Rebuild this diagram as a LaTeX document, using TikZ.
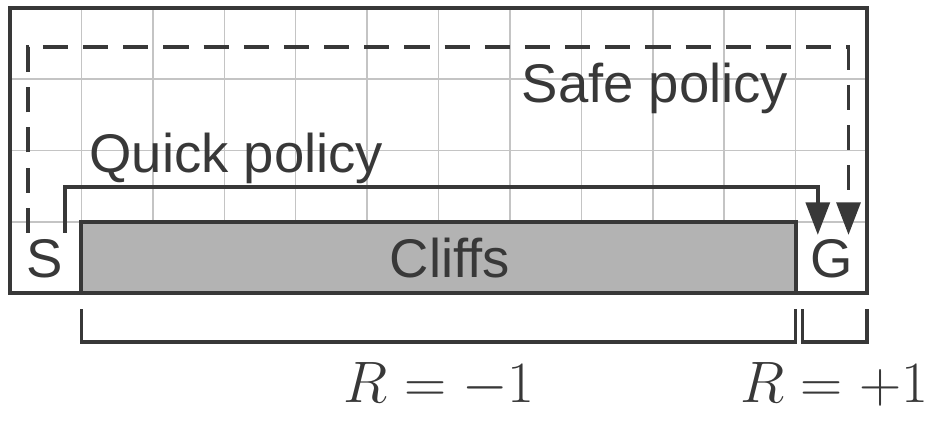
\RequirePackage{fix-cm}
\documentclass[tikz,border=0pt]{standalone}
\usepackage{fontspec}
\setmainfont{Liberation Sans}
\usepackage{amsmath}
\usetikzlibrary{arrows.meta}
\definecolor{ink}{HTML}{383838}
\definecolor{cliffgray}{HTML}{B3B3B3}
\definecolor{gridgray}{HTML}{C4C4C4}
\begin{document}
\begin{tikzpicture}[x=1cm,y=1cm,
  lbl/.style={inner sep=0pt,anchor=base,text=ink,font=\fontsize{21.7}{26}\selectfont},
  mathlbl/.style={inner sep=0pt,anchor=base,text=ink,font=\fontsize{23.3}{28}\selectfont},
  path/.style={ink,line width=1.5pt,-{Triangle[length=13pt,width=9.5pt]}},
  safepath/.style={path,dash pattern=on 10pt off 6pt},
  bracket/.style={ink,line width=1.3pt}]
\useasboundingbox (-0.14,-1.94) rectangle (13.063,4.109);
\draw [gridgray,line width=0.6pt] (0,0) grid (12,4);
\draw [ink,fill=cliffgray,line width=1.6pt] (1,0) rectangle (11,1);
\draw [ink,line width=1.6pt] (0,0) rectangle (12,4);
\node [lbl] (start) at (0.49,0.23) {S};
\node [lbl] (goal) at (11.51,0.23) {G};
\node [lbl] (cliffs) at (6.16,0.23) {Cliffs};
\node [lbl] (safe) at (9.03,2.68) {Safe policy};
\node [lbl] (quick) at (3.17,1.70) {Quick policy};
\coordinate (s1) at (0.25,0.85);
\coordinate (s2) at (0.25,3.45);
\coordinate (s3) at (11.74,0.82);
\coordinate (q1) at (0.77,0.85);
\coordinate (q2) at (0.77,1.49);
\coordinate (q3) at (11.31,0.82);
\draw [safepath] (s1) -- (s2) -| (s3);
\draw [path] (q1) -- (q2) -| (q3);
\coordinate (b1) at (1,-0.22);
\coordinate (b2) at (11,-0.22);
\coordinate (b3) at (11.1,-0.22);
\coordinate (b4) at (12,-0.22);
\draw [bracket] (b1) -- ++(0,-0.46) -| (b2);
\draw [bracket] (b3) -- ++(0,-0.46) -| (b4);
\node [mathlbl] (rneg) at (6.01,-1.53) {$R=-1$};
\node [mathlbl] (rpos) at (11.54,-1.53) {$R=+1$};
\end{tikzpicture}
\end{document}
